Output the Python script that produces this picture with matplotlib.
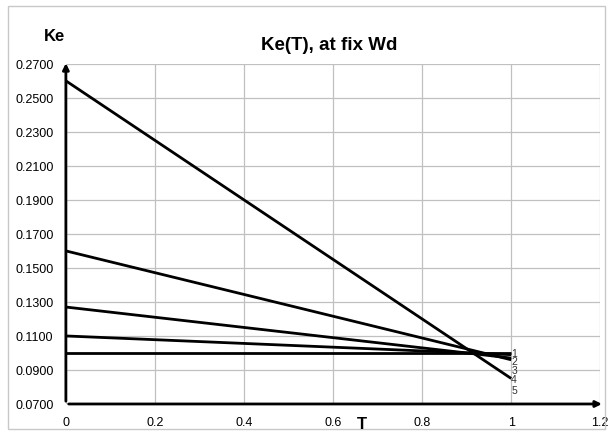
import matplotlib
matplotlib.use('Agg')
import matplotlib.pyplot as plt
from matplotlib.patches import Rectangle

# line endpoints: Ke at T=0 and at T=1
t_values = [0.0, 1.0]
ke_start = [0.2600, 0.1600, 0.1270, 0.1100, 0.1000]
ke_end = [0.0850, 0.0960, 0.0970, 0.0990, 0.1000]
curve_labels = ['1', '2', '3', '4', '5']
label_y = [0.1002, 0.0950, 0.0898, 0.0846, 0.0785]

x_ticks = [0, 0.2, 0.4, 0.6, 0.8, 1.0, 1.2]
x_tick_labels = ['0', '0.2', '0.4', '0.6', '0.8', '1', '1.2']
y_ticks = [0.07, 0.09, 0.11, 0.13, 0.15, 0.17, 0.19, 0.21, 0.23, 0.25, 0.27]

plt.rcParams['font.family'] = ['Liberation Sans', 'DejaVu Sans']

fig = plt.figure(figsize=(6.1, 4.35), dpi=100)
fig.patches.append(Rectangle((0.013, 0.012), 0.978, 0.972, transform=fig.transFigure,
                             fill=False, edgecolor='#c8c8c8', linewidth=1))
ax = fig.add_axes([0.108, 0.069, 0.876, 0.782])

for s, e in zip(ke_start, ke_end):
    ax.plot(t_values, [s, e], color='black', linewidth=2, solid_capstyle='butt')

for lab, y in zip(curve_labels, label_y):
    ax.text(1.0, y, lab, fontsize=7.5, ha='left', va='center', color='#333333')

ax.set_xlim(0, 1.2)
ax.set_ylim(0.07, 0.27)
ax.set_xticks(x_ticks)
ax.set_xticklabels(x_tick_labels, fontsize=9)
ax.set_yticks(y_ticks)
ax.set_yticklabels(['%.4f' % v for v in y_ticks], fontsize=9)
ax.tick_params(length=0, pad=9)
ax.grid(True, color='#c0c0c0', linewidth=0.9)
ax.set_axisbelow(True)
for sp in ax.spines.values():
    sp.set_visible(False)

# axis arrows
ax.annotate('', xy=(0, 0.272), xytext=(0, 0.07), xycoords='data',
            arrowprops=dict(arrowstyle='-|>', color='black', lw=2, mutation_scale=9),
            annotation_clip=False)
ax.annotate('', xy=(1.21, 0.07), xytext=(0, 0.07), xycoords='data',
            arrowprops=dict(arrowstyle='-|>', color='black', lw=2, mutation_scale=9),
            annotation_clip=False)

fig.text(0.54, 0.895, 'Ke(T), at fix Wd', fontsize=13.5, fontweight='bold', ha='center', va='center')
fig.text(0.09, 0.915, 'Ke', fontsize=12, fontweight='bold', ha='center', va='center')
fig.text(0.594, 0.024, 'T', fontsize=12, fontweight='bold', ha='center', va='center')

fig.savefig('out.png', dpi=100)
